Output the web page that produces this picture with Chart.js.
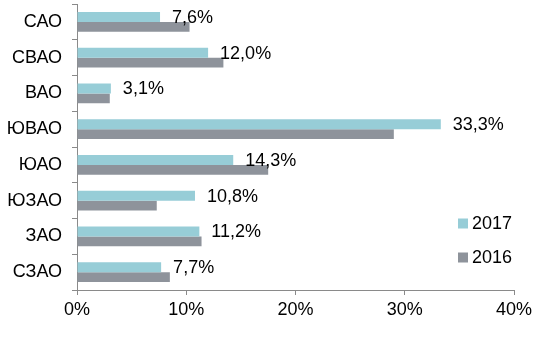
<!DOCTYPE html>
<html>
<head>
<meta charset="utf-8">
<script src="https://cdn.jsdelivr.net/npm/chart.js@4"></script>
<style>
html,body{margin:0;padding:0;background:#fff;}
#wrap{width:549px;height:363px;position:relative;}
</style>
</head>
<body>
<div id="wrap"><canvas id="c" width="549" height="363"></canvas></div>
<script>
const categories = ["САО","СВАО","ВАО","ЮВАО","ЮАО","ЮЗАО","ЗАО","СЗАО"];
const values2017 = [7.6, 12.0, 3.1, 33.3, 14.3, 10.8, 11.2, 7.7];
const values2016 = [10.3, 13.4, 3.0, 29.0, 17.5, 7.3, 11.4, 8.5];
const seriesLabels = ["2017","2016"];
const xTicks = [0, 10, 20, 30, 40];

const TEAL = "#97CDD7";
const GRAY = "#8E939B";
const AXIS = "#8a8a8a";
const FONT = "'Liberation Sans', Arial, sans-serif";
const FS = 18;

const labelPlugin = {
  id: 'valueLabels',
  afterDatasetsDraw(chart) {
    const ctx = chart.ctx;
    const meta = chart.getDatasetMeta(0);
    ctx.save();
    ctx.font = FS + "px " + FONT;
    ctx.fillStyle = "#000";
    ctx.textAlign = "left";
    ctx.textBaseline = "middle";
    meta.data.forEach((bar, i) => {
      const v = chart.data.datasets[0].data[i];
      const txt = v.toFixed(1).replace('.', ',') + '%';
      ctx.fillText(txt, bar.x + 12, bar.y + 1);
    });
    ctx.restore();
  }
};

const legendPlugin = {
  id: 'customLegend',
  afterDraw(chart) {
    const ctx = chart.ctx;
    ctx.save();
    ctx.font = FS + "px " + FONT;
    ctx.textBaseline = "middle";
    ctx.textAlign = "left";
    const x0 = 458, ys = [223.5, 257.5];
    chart.data.datasets.forEach((ds, i) => {
      ctx.fillStyle = ds.backgroundColor;
      ctx.fillRect(x0, ys[i] - 5, 10, 10);
      ctx.fillStyle = "#000";
      ctx.fillText(ds.label, x0 + 14, ys[i] + 1);
    });
    ctx.restore();
  }
};

new Chart(document.getElementById('c'), {
  type: 'bar',
  data: {
    labels: categories,
    datasets: [
      { label: seriesLabels[0], data: values2017, backgroundColor: TEAL, categoryPercentage: 0.55, barPercentage: 1.0 },
      { label: seriesLabels[1], data: values2016, backgroundColor: GRAY, categoryPercentage: 0.55, barPercentage: 1.0 }
    ]
  },
  options: {
    indexAxis: 'y',
    responsive: false,
    animation: false,
    layout: { padding: { top: 4, right: 35, bottom: 33, left: 0 } },
    plugins: { legend: { display: false }, tooltip: { enabled: false } },
    scales: {
      x: {
        min: xTicks[0], max: xTicks[xTicks.length - 1],
        afterBuildTicks(scale) { scale.ticks = xTicks.map(v => ({ value: v })); },
        afterFit(scale) { scale.height = 40; scale.paddingLeft = 0; scale.paddingRight = 0; },
        border: { display: true, color: AXIS, width: 1 },
        grid: { drawOnChartArea: false, drawTicks: true, tickLength: 5, color: AXIS },
        ticks: {
          padding: 4, color: "#000", font: { size: FS, family: FONT },
          callback: v => v + '%'
        }
      },
      y: {
        afterFit(scale) { scale.width = 77; scale.paddingTop = 0; scale.paddingBottom = 0; },
        border: { display: true, color: AXIS, width: 1 },
        grid: { drawOnChartArea: false, drawTicks: true, tickLength: 5, color: AXIS, offset: true },
        ticks: { padding: 10, color: "#000", font: { size: FS, family: FONT } }
      }
    }
  },
  plugins: [labelPlugin, legendPlugin]
});
</script>
</body>
</html>
